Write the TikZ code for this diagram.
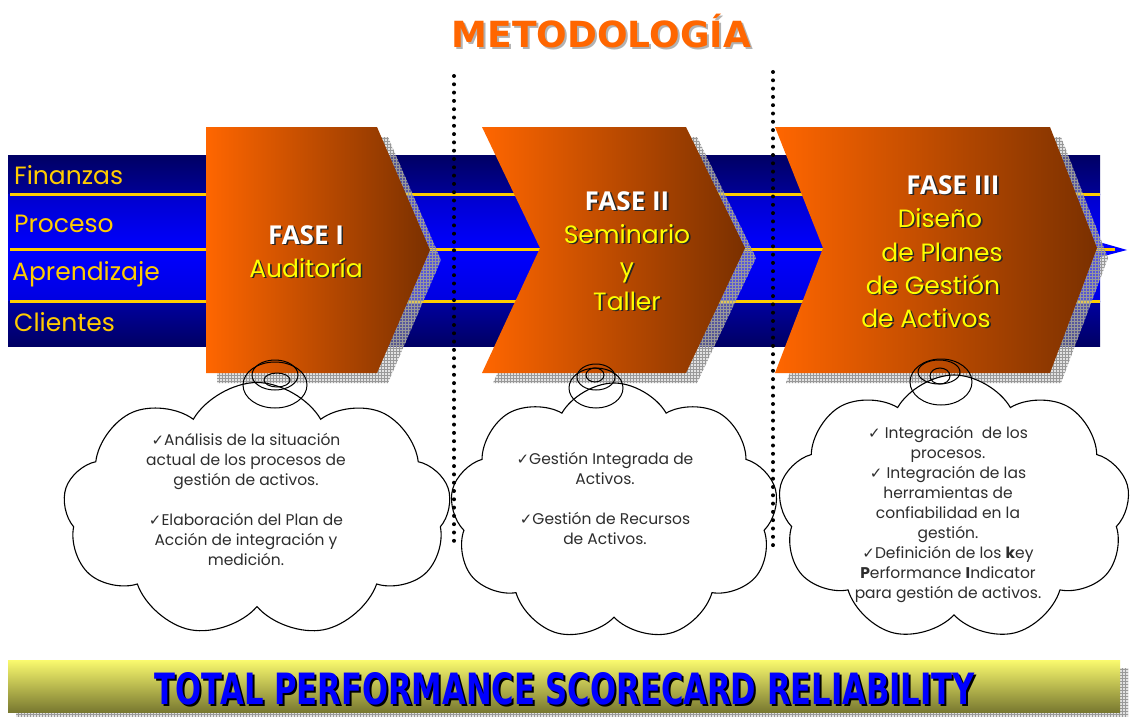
\documentclass[tikz,border=0pt]{standalone}
\usepackage{fontspec}
\setmainfont{Poppins}
\newfontfamily\fasefont{Open Sans}
\newfontfamily\djv{DejaVu Sans}
\usetikzlibrary{shapes.symbols,patterns,calc}
\definecolor{orng}{RGB}{255,102,0}
\definecolor{brwn}{RGB}{122,48,0}
\definecolor{gold}{RGB}{255,204,0}
\definecolor{yel}{RGB}{255,255,0}
\definecolor{banTop}{RGB}{250,250,110}
\definecolor{banBot}{RGB}{120,120,48}
\definecolor{navA}{RGB}{0,0,100}
\definecolor{navB}{RGB}{0,0,150}
\definecolor{bluA}{RGB}{0,0,205}
\definecolor{bluB}{RGB}{0,0,255}
\definecolor{bluC}{RGB}{0,0,225}
\definecolor{navC}{RGB}{0,0,160}
\definecolor{navD}{RGB}{0,0,100}
\definecolor{txtc}{RGB}{45,45,45}
\newcommand{\shnode}[5][black!85]{%
  \node[#4,text=#1] at ($(#3)+(1.6,1.6)$) {#5};
  \node[#4] (#2) at (#3) {#5};}
\newcommand{\ck}{{\djv\fontsize{15}{20}\selectfont ✓}}
\begin{document}
\begin{tikzpicture}[x=1pt,y=-1pt,
  shadowfill/.style={fill=gray!50, fill opacity=0.45},
  gridfill/.style={pattern=grid, pattern color=gray!80},
  chev/.style={left color=orng, right color=brwn},
  ylw/.style={draw=gold, line width=3pt},
  rowlbl/.style={anchor=base west, inner sep=0, text=gold, font=\fontsize{25}{30}\selectfont},
  fasehd/.style={anchor=base, inner sep=0, text=white, font=\fasefont\bfseries\fontsize{26}{30}\selectfont},
  fasesub/.style={anchor=base, inner sep=0, text=yel, font=\fontsize{25}{30}\selectfont},
  cloudbox/.style={cloud, cloud puffs=9, cloud puff arc=120, cloud ignores aspect, draw=black, fill=white, line width=1.1pt},
  cloudtxt/.style={align=center, inner sep=0, text=txtc, font=\fontsize{15.5}{20}\selectfont},
  bubble/.style={draw=black, line width=1pt},
  dots/.style={line width=4pt, line cap=round, dash pattern=on 0pt off 8.3pt}
]
\useasboundingbox (0,0) rectangle (1130,717);
\fill[white] (0,0) rectangle (1130,717);

% ---- band ----
\path[top color=navA, bottom color=navB] (8,155) rectangle (1100,194);
\path[top color=bluA, bottom color=bluB] (8,194) rectangle (1100,249);
\path[top color=bluB, bottom color=bluC] (8,249) rectangle (1100,301);
\path[top color=navC, bottom color=navD] (8,301) rectangle (1100,346);
\fill[blue] (1085,238) -- (1127,250) -- (1085,261) -- cycle;
\draw[ylw] (10,194) -- (1100,194);
\draw[ylw] (10,249) -- (1115,249);
\draw[ylw] (10,301) -- (1100,301);

\node[rowlbl] (fin) at (14,184) {Finanzas};
\node[rowlbl] (pro) at (14,232) {Proceso};
\node[rowlbl] (apr) at (12,280) {Aprendizaje};
\node[rowlbl] (cli) at (14,331) {Clientes};

% ---- chevron shadows ----
\fill[shadowfill] (217,137) -- (388,137) -- (441,260) -- (388,383) -- (217,383) -- cycle;
\fill[gridfill] (217,137) -- (388,137) -- (441,260) -- (388,383) -- (217,383) -- cycle;
\fill[shadowfill] (493,137) -- (697,137) -- (756,258) -- (697,383) -- (493,383) -- (551,258) -- cycle;
\fill[gridfill] (493,137) -- (697,137) -- (756,258) -- (697,383) -- (493,383) -- (551,258) -- cycle;
\fill[shadowfill] (786,137) -- (1061,137) -- (1108,258) -- (1061,383) -- (786,383) -- (834,258) -- cycle;
\fill[gridfill] (786,137) -- (1061,137) -- (1108,258) -- (1061,383) -- (786,383) -- (834,258) -- cycle;

% ---- chevrons ----
\path[chev] (206,127) -- (377,127) -- (430,250) -- (377,373) -- (206,373) -- cycle;
\path[chev] (482,127) -- (686,127) -- (745,248) -- (686,373) -- (482,373) -- (540,248) -- cycle;
\path[chev] (775,127) -- (1050,127) -- (1097,248) -- (1050,373) -- (775,373) -- (823,248) -- cycle;

\shnode{f1h}{306,244}{fasehd}{FASE I}
\shnode{f1s}{306,277}{fasesub}{Auditoría}
\shnode{f2h}{627,210}{fasehd}{FASE II}
\shnode{f2a}{627,243}{fasesub}{Seminario}
\shnode{f2b}{627,276}{fasesub}{y}
\shnode{f2c}{627,310}{fasesub}{Taller}
\shnode{f3h}{953,194}{fasehd}{FASE III}
\shnode{f3a}{940,227}{fasesub}{Diseño}
\shnode{f3b}{942,261}{fasesub}{de Planes}
\shnode{f3c}{933,294}{fasesub}{de Gestión}
\shnode{f3d}{926,327}{fasesub}{de Activos}

% ---- clouds ----
\node[cloudbox, minimum width=388pt, minimum height=255pt] (c1) at (257,510) {};
\node[cloudbox, minimum width=328pt, minimum height=258pt] (c2) at (614,512) {};
\node[cloudbox, minimum width=352pt, minimum height=266pt] (c3) at (954,508) {};

\draw[bubble] (275,385) ellipse [x radius=32, y radius=23];
\draw[bubble] (275,375) ellipse [x radius=23, y radius=15];
\draw[bubble] (277,380) ellipse [x radius=13, y radius=7];
\draw[bubble] (596,388) ellipse [x radius=27, y radius=20];
\draw[bubble] (596,377) ellipse [x radius=19, y radius=13];
\draw[bubble] (595,375) ellipse [x radius=9, y radius=7];
\draw[bubble] (941,382) ellipse [x radius=31, y radius=23];
\draw[bubble] (939,372) ellipse [x radius=21, y radius=12];
\draw[bubble] (940,376) ellipse [x radius=10, y radius=8];

\node[cloudtxt] (t1) at (246,499) {\ck Análisis de la situación\\actual de los procesos de\\gestión de activos.\\[20pt]\ck Elaboración del Plan de\\Acción de integración y\\medición.};
\node[cloudtxt] (t2) at (605,498) {\ck Gestión Integrada de\\Activos.\\[20pt]\ck Gestión de Recursos\\de Activos.};
\node[cloudtxt] (t3) at (948,514) {\ck{} Integración \ de los\\procesos.\\\ck{} Integración de las\\herramientas de\\confiabilidad en la\\gestión.\\\ck Definición de los {\bfseries k}ey\\{\bfseries P}erformance {\bfseries I}ndicator\\para gestión de activos.};

% ---- dotted separators ----
\coordinate (d1a) at (454,76);
\coordinate (d1b) at (454,548);
\coordinate (d2a) at (773,72);
\coordinate (d2b) at (773,548);
\draw[dots] (d1a) -- (d1b);
\draw[dots] (d2a) -- (d2b);

% ---- title ----
\node[anchor=base, inner sep=0, text=gray!60, font=\djv\bfseries\fontsize{36}{40}\selectfont] at (603.5,49.5) {METODOLOGÍA};
\node[anchor=base, inner sep=0, text=orng, font=\djv\bfseries\fontsize{36}{40}\selectfont] (title) at (601.5,47.5) {METODOLOGÍA};

% ---- banner ----
\fill[shadowfill] (16,668) rectangle (1128,720);
\fill[gridfill] (16,668) rectangle (1128,720);
\path[top color=banTop, bottom color=banBot] (8,660) rectangle (1120,712);
\node[anchor=base, inner sep=0, text=black] at (567,706) {\resizebox{820pt}{32pt}{\djv\bfseries TOTAL PERFORMANCE SCORECARD RELIABILITY}};
\node[anchor=base, inner sep=0, text=blue] (ban) at (565,704) {\resizebox{820pt}{32pt}{\djv\bfseries TOTAL PERFORMANCE SCORECARD RELIABILITY}};
\end{tikzpicture}
\end{document}
